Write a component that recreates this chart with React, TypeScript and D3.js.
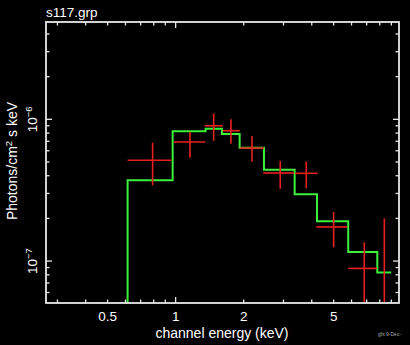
import React from "react";
import * as d3 from "d3";

// Model (green step histogram): bin edges (keV) and values (photons/cm^2/s/keV)
const modelEdges = [0.613, 0.97, 1.357, 1.603, 1.919, 2.459, 3.361, 4.22, 5.8, 7.8, 8.99];
const modelValues = [3.71e-7, 8.23e-7, 8.58e-7, 7.87e-7, 6.3e-7, 4.41e-7, 2.96e-7, 1.91e-7, 1.16e-7, 8.32e-8];

// Data points (red crosses)
const energy = [0.452, 0.791, 1.157, 1.473, 1.757, 2.176, 2.903, 3.784, 5.0, 6.83, 8.38];
const energyLo = [0.447, 0.613, 0.983, 1.344, 1.614, 1.919, 2.442, 3.382, 4.19, 5.8, 7.8];
const energyHi = [0.457, 0.956, 1.352, 1.619, 1.925, 2.459, 3.348, 4.25, 5.74, 7.78, 8.99];
const flux = [3e-8, 5.14e-7, 6.92e-7, 9.01e-7, 8.31e-7, 6.27e-7, 4.18e-7, 4.16e-7, 1.74e-7, 8.88e-8, 4.5e-8];
const fluxLo = [1e-8, 3.42e-7, 5.36e-7, 7.06e-7, 6.73e-7, 5.02e-7, 3.24e-7, 3.26e-7, 1.25e-7, 4e-8, 1e-8];
const fluxHi = [5.15e-8, 6.84e-7, 8.18e-7, 1.1e-6, 1.0e-6, 7.62e-7, 5.08e-7, 5.05e-7, 2.22e-7, 1.355e-7, 2.0e-7];

const xTickLabels = [0.5, 1, 2, 5];
const xDomain = [0.267, 9.73];
const yDomain = [5.06e-8, 4.86e-6];

const W = 410;
const H = 345;
const left = 46, right = 399, top = 22, bottom = 303;
const FONT = "'Liberation Sans', Arial, Helvetica, sans-serif";

export default function App() {
  const x = d3.scaleLog().domain(xDomain).range([left, right]);
  const y = d3.scaleLog().domain(yDomain).range([bottom, top]);

  // step path for model
  let d = `M${x(modelEdges[0])},${bottom}`;
  modelValues.forEach((v, i) => {
    d += `L${x(modelEdges[i])},${y(v)}L${x(modelEdges[i + 1])},${y(v)}`;
  });

  const xMinor: number[] = [];
  for (let dec = -1; dec <= 0; dec++) {
    for (let m = 1; m <= 9; m++) {
      const v = m * Math.pow(10, dec);
      if (v > xDomain[0] && v < xDomain[1]) xMinor.push(v);
    }
  }
  const yMinor: number[] = [];
  for (let dec = -8; dec <= -6; dec++) {
    for (let m = 1; m <= 9; m++) {
      const v = m * Math.pow(10, dec);
      if (v > yDomain[0] && v < yDomain[1]) yMinor.push(v);
    }
  }
  const isMajor = (v: number) => Math.abs(Math.log10(v) - Math.round(Math.log10(v))) < 1e-6;
  const frame = "#e8e8e8";

  return (
    <svg width={W} height={H} style={{ position: "fixed", left: 0, top: 0, background: "#000" }}>
      <rect x={0} y={0} width={W} height={H} fill="#000" />
      <defs>
        <clipPath id="plotclip">
          <rect x={left} y={top} width={right - left} height={bottom - top} />
        </clipPath>
      </defs>
      <g clipPath="url(#plotclip)">
        <path d={d} fill="none" stroke="#3cf03c" strokeWidth={2} />
        {energy.map((e, i) => (
          <g key={i} stroke="#e8201e" strokeWidth={1.6}>
            <line x1={x(energyLo[i])} x2={x(energyHi[i])} y1={y(flux[i])} y2={y(flux[i])} />
            <line x1={x(e)} x2={x(e)} y1={y(fluxLo[i])} y2={y(fluxHi[i])} />
          </g>
        ))}
      </g>
      {/* ticks */}
      <g stroke={frame} strokeWidth={1.3}>
        {xMinor.map((v, i) => {
          const len = isMajor(v) ? 6 : 3.5;
          return (
            <g key={"x" + i}>
              <line x1={x(v)} x2={x(v)} y1={bottom} y2={bottom - len} />
              <line x1={x(v)} x2={x(v)} y1={top} y2={top + len} />
            </g>
          );
        })}
        {yMinor.map((v, i) => {
          const len = isMajor(v) ? 6 : 3.5;
          return (
            <g key={"y" + i}>
              <line x1={left} x2={left + len} y1={y(v)} y2={y(v)} />
              <line x1={right} x2={right - len} y1={y(v)} y2={y(v)} />
            </g>
          );
        })}
      </g>
      <rect x={left} y={top} width={right - left} height={bottom - top} fill="none" stroke={frame} strokeWidth={1.8} />
      {/* x tick labels */}
      {xTickLabels.map((v) => (
        <text key={v} x={x(v)} y={321} fill="#fff" fontFamily={FONT} fontSize={13.5} textAnchor="middle">
          {String(v)}
        </text>
      ))}
      {/* y tick labels */}
      {[1e-6, 1e-7].map((v) => (
        <text
          key={v}
          transform={`translate(37,${y(v)}) rotate(-90)`}
          fill="#fff"
          fontFamily={FONT}
          fontSize={13.5}
          textAnchor="middle"
        >
          10
          <tspan dy={-5} fontSize={9.5}>{"\u2212" + Math.round(-Math.log10(v))}</tspan>
        </text>
      ))}
      <text x={222} y={338} fill="#fff" fontFamily={FONT} fontSize={14} textAnchor="middle">
        channel energy (keV)
      </text>
      <text transform={`translate(17,161) rotate(-90)`} fill="#fff" fontFamily={FONT} fontSize={14} textAnchor="middle">
        Photons/cm
        <tspan dy={-5} fontSize={9.5}>2</tspan>
        <tspan dy={5}> s keV</tspan>
      </text>
      <text x={46} y={17} fill="#fff" fontFamily={FONT} fontSize={13.5}>
        s117.grp
      </text>
      <text x={378} y={336} fill="#aaa" fontFamily={FONT} fontSize={5}>
        gfs  9-Dec-
      </text>
    </svg>
  );
}
